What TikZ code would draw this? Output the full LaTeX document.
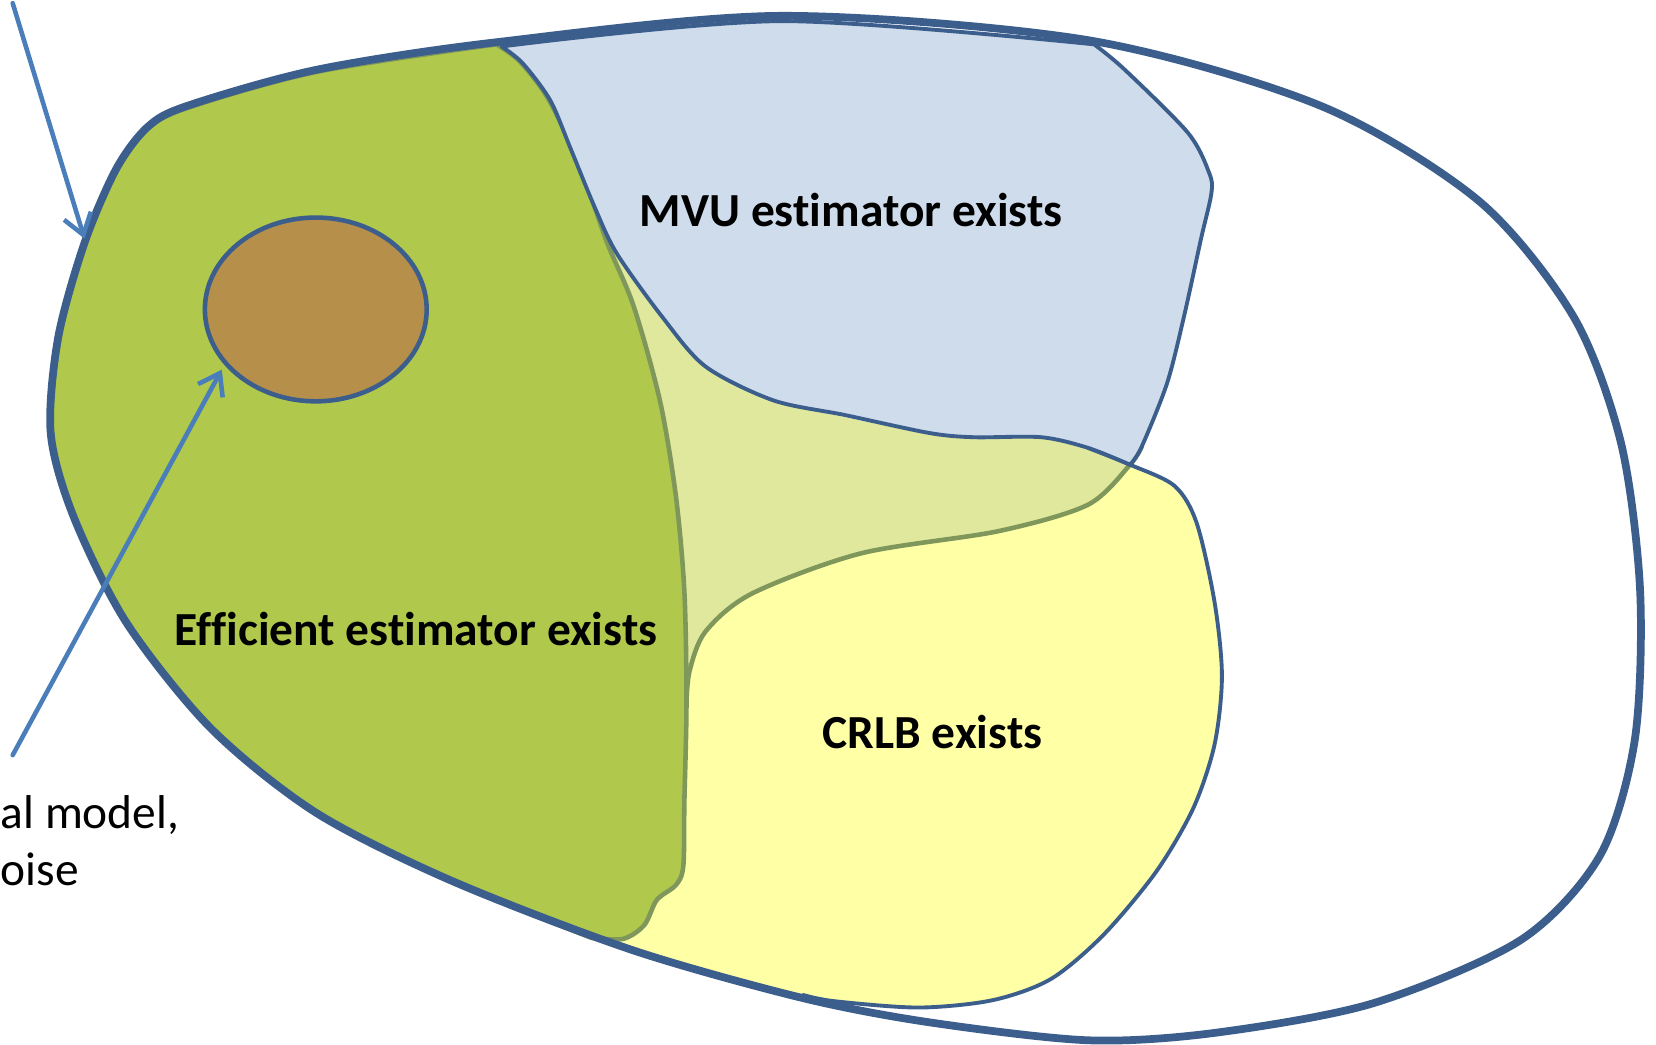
\documentclass[tikz,border=0pt]{standalone}
\usepackage{fontspec}
\setmainfont{Carlito}[Ligatures=NoCommon]
\usetikzlibrary{arrows.meta}
\definecolor{edgeblue}{HTML}{3B5E8C}
\definecolor{arrowblue}{HTML}{4A7EBB}
\definecolor{mvufill}{HTML}{CFDCEB}
\definecolor{crlbfill}{HTML}{FFFFA6}
\definecolor{mixfill}{HTML}{DFE89C}
\definecolor{efffill}{HTML}{B0C84C}
\definecolor{effedge}{HTML}{7F975A}
\definecolor{gaussfill}{HTML}{B68F4B}
\begin{document}
\begin{tikzpicture}[x=0.1056mm, y=-0.1056mm, line join=round, line cap=round,
    >={Straight Barb[length=2mm,width=2.8mm]},
    regionlabel/.style={font=\fontsize{13.5}{16.2}\selectfont\bfseries, inner sep=0pt},
    pointer/.style={arrowblue, line width=1.3pt, ->}]
    \fill[white] (0,0) rectangle (1568,989);
    \useasboundingbox (0,0) rectangle (1568,989);
    \fill[crlbfill] plot[smooth] coordinates {(1070,440) (1030,478) (945,503) (815,524) (712,562) (668,598) (653,635) (650,665)}
        -- (600,700) -- (560,888)
        -- plot[smooth] coordinates {(560,888) (600,900) (760,945)}
        -- plot[smooth] coordinates {(760,945) (790,948) (870,954) (940,947) (995,927) (1045,885) (1095,825) (1130,765) (1150,705) (1157,640) (1150,570) (1133,495) (1112,460) (1070,440)} -- cycle;
    \fill[mixfill] (575,230) -- plot[smooth] coordinates {(575,230) (627,300) (668,347) (732,379) (880,410) (986,414) (1070,440)}
        -- plot[smooth] coordinates {(1070,440) (1030,478) (945,503) (815,524) (712,562) (668,598) (653,635) (650,665)}
        -- (640,470) -- (625,380) -- cycle;
    \draw[effedge, line width=1.3pt] plot[smooth] coordinates {(1081,423) (1070,440) (1030,478) (945,503) (815,524) (712,562) (668,598) (653,635) (650,665)};
    \draw[edgeblue, line width=1.1pt] plot[smooth] coordinates {(1030,424) (1070,440) (1112,460) (1133,495) (1150,570) (1157,640) (1150,705) (1130,765) (1095,825) (1045,885) (995,927) (940,947) (870,954) (790,948) (760,942)};
    \filldraw[efffill, draw=effedge, line width=1.3pt]
        plot[smooth] coordinates {(470,42) (300,68) (178,102) (140,122) (110,162) (80,232) (56,322) (49,410) (70,490) (120,590) (200,690) (300,770) (430,835) (560,888)}
        -- plot[smooth] coordinates {(560,888) (590,889) (610,876) (622,852) (640,838) (647,820) (648,760) (650,665) (648,560) (640,470) (625,380) (600,290) (575,230) (550,160) (520,95) (492,58) (470,42)} -- cycle;
    \filldraw[mvufill, draw=edgeblue, line width=1.1pt]
        plot[smooth] coordinates {(475,44) (740,20) (1036,42)}
        -- plot[smooth] coordinates {(1036,42) (1065,66) (1125,126) (1145,164) (1147,183) (1137,227) (1121,300) (1105,363) (1081,423) (1070,440)}
        -- plot[smooth] coordinates {(1070,440) (1030,424) (986,414) (922,414) (880,410) (800,393) (732,379) (668,347) (627,300) (584,240) (563,196) (540,140) (521,95) (495,60) (475,44)} -- cycle;
    \filldraw[gaussfill, draw=edgeblue, line width=1.3pt] (299,293) ellipse [x radius=105, y radius=87];
    \draw[edgeblue, line width=2.2pt] plot[smooth cycle] coordinates {(178,100) (300,66) (470,40) (740,15) (1030,38) (1250,100) (1400,190) (1490,300) (1535,420) (1553,560) (1548,700) (1515,810) (1440,890) (1300,950) (1150,978) (1030,985) (880,968) (760,945) (600,900) (430,835) (300,770) (200,690) (120,590) (70,490) (48,410) (55,320) (80,230) (110,160) (140,120)};
    \node[regionlabel, anchor=base] (mvu) at (806,214) {MVU estimator exists};
    \node[regionlabel, anchor=base] (eff) at (394,611) {Efficient estimator exists};
    \node[regionlabel, anchor=base] (crlb) at (883,709) {CRLB exists};
    \node[font=\fontsize{13.5}{16.2}\selectfont, anchor=base west, align=left, inner sep=0pt] (model) at (0,838) {al model,\\oise};
    \coordinate (modelTail) at (12,715);
    \coordinate (gaussTip) at (210,350);
    \coordinate (setTail) at (12,3);
    \coordinate (setTip) at (80,226);
    \draw[pointer] (modelTail) -- (gaussTip);
    \draw[pointer] (setTail) -- (setTip);
\end{tikzpicture}
\end{document}
